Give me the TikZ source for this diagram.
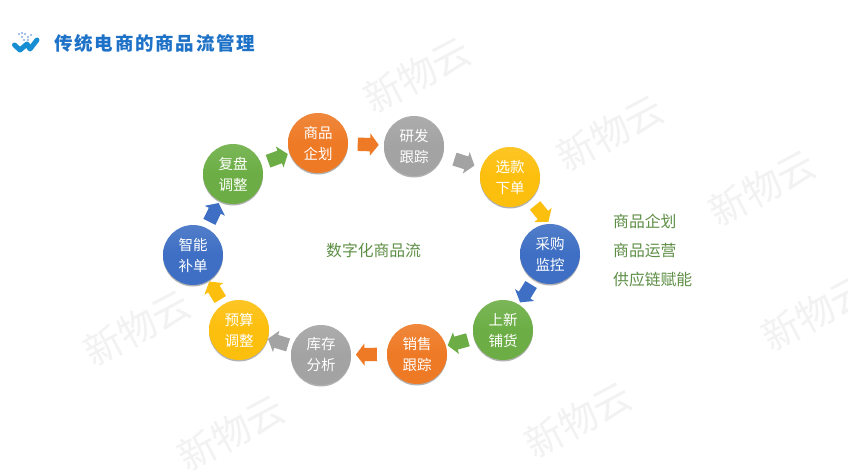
\documentclass[tikz,border=0pt]{standalone}
\usepackage{fontspec}
\setmainfont{Noto Sans CJK SC}
\usetikzlibrary{shapes.arrows,shadows,calc}
\definecolor{cblue}{HTML}{3E6FC4}
\definecolor{cgreen}{HTML}{6CAE45}
\definecolor{corange}{HTML}{EE7A26}
\definecolor{cgray}{HTML}{A3A3A3}
\definecolor{cyellow}{HTML}{FDBF0D}
\definecolor{ctitle}{HTML}{1D72C8}
\definecolor{ctext}{HTML}{5E8F46}
\definecolor{cwater}{HTML}{F2F2F2}
\tikzset{
  x=1pt,y=-1pt,
  stage/.style={circle,minimum size=60pt,inner sep=0pt,text=white,font=\fontsize{14.5}{21}\selectfont,align=center,
    top color=#1!90!white,bottom color=#1,middle color=#1,
    drop shadow={shadow xshift=0pt,shadow yshift=-1.5pt,opacity=.3,fill=black}},
  flow/.style={single arrow,fill=#1,minimum width=22pt,minimum height=21pt,single arrow head extend=4.5pt,single arrow tip angle=105,inner sep=0pt,sloped,allow upside down},
  wmark/.style={font=\fontsize{38}{38}\selectfont,text=cwater,rotate=28},
  caption/.style={font=\fontsize{15.8}{18}\selectfont,text=ctext,anchor=west,inner sep=0pt},
}
\newcommand{\shaft}{\rule{0pt}{13pt}}
\begin{document}
\begin{tikzpicture}
\useasboundingbox (0,0) rectangle (848,471);
\fill[white] (0,0) rectangle (848,471);
% watermarks
\begin{scope}
\clip (0,0) rectangle (848,471);
\node[wmark] (w1) at (417,75) {新物云};
\node[wmark] (w2) at (610,133) {新物云};
\node[wmark] (w3) at (762,188) {新物云};
\node[wmark] (w4) at (137,328) {新物云};
\node[wmark] (w5) at (231,433) {新物云};
\node[wmark] (w6) at (578,420) {新物云};
\node[wmark] (w7) at (815,313) {新物云};
\end{scope}
% logo
\draw[line width=5pt,ctitle!80!cyan,line join=round,line cap=round] (14.5,45) -- (20,50) -- (27,44) -- (30,49) -- (37,40);
\foreach \p in {(19,34),(22,37),(25,34),(28,37),(31,35),(24,40),(28,40),(22,33)}
  \fill[ctitle!55!white] \p circle (1.2);
\node[anchor=west,inner sep=0pt,font=\fontsize{18.5}{20}\bfseries\selectfont,text=ctitle] (title) at (54,43) {传\kern1.8pt 统\kern1.8pt 电\kern1.8pt 商\kern1.8pt 的\kern1.8pt 商\kern1.8pt 品\kern1.8pt 流\kern1.8pt 管\kern1.8pt 理};
% stages
\node[stage=corange] (a) at (318,143) {商品\\企划};
\node[stage=cgray]   (b) at (414,146) {研发\\跟踪};
\node[stage=cyellow] (c) at (510,177) {选款\\下单};
\node[stage=cblue]   (d) at (550,254) {采购\\监控};
\node[stage=cgreen]  (e) at (503,330) {上新\\铺货};
\node[stage=corange] (f) at (417,354) {销售\\跟踪};
\node[stage=cgray]   (g) at (321,355) {库存\\分析};
\node[stage=cyellow] (h) at (239,330) {预算\\调整};
\node[stage=cblue]   (i) at (193,255) {智能\\补单};
\node[stage=cgreen]  (j) at (233,174) {复盘\\调整};
% flow arrows
\path (j) -- node[flow=cgreen,pos=.5]{\shaft} (a);
\path (a) -- node[flow=corange,pos=.49]{\shaft} (b);
\path (b) -- node[flow=cgray]{\shaft} (c);
\path (c.-48) -- node[flow=cyellow]{\shaft} (d.90);
\path (d) -- node[flow=cblue,pos=.47]{\shaft} (e);
\path (e) -- node[flow=cgreen,pos=.49]{\shaft} (f);
\path (f) -- node[flow=corange]{\shaft} (g);
\path (g) -- node[flow=cgray,pos=.48]{\shaft} (h);
\path (h) -- node[flow=cyellow,pos=.49]{\shaft} (i);
\path (i) -- node[flow=cblue,pos=.49]{\shaft} (j);
% labels
\node[caption] (center) at (326,250) {数字化商品流};
\node[caption] (l1) at (613,221) {商品企划};
\node[caption] (l2) at (613,250) {商品运营};
\node[caption] (l3) at (613,279) {供应链赋能};
\end{tikzpicture}
\end{document}
